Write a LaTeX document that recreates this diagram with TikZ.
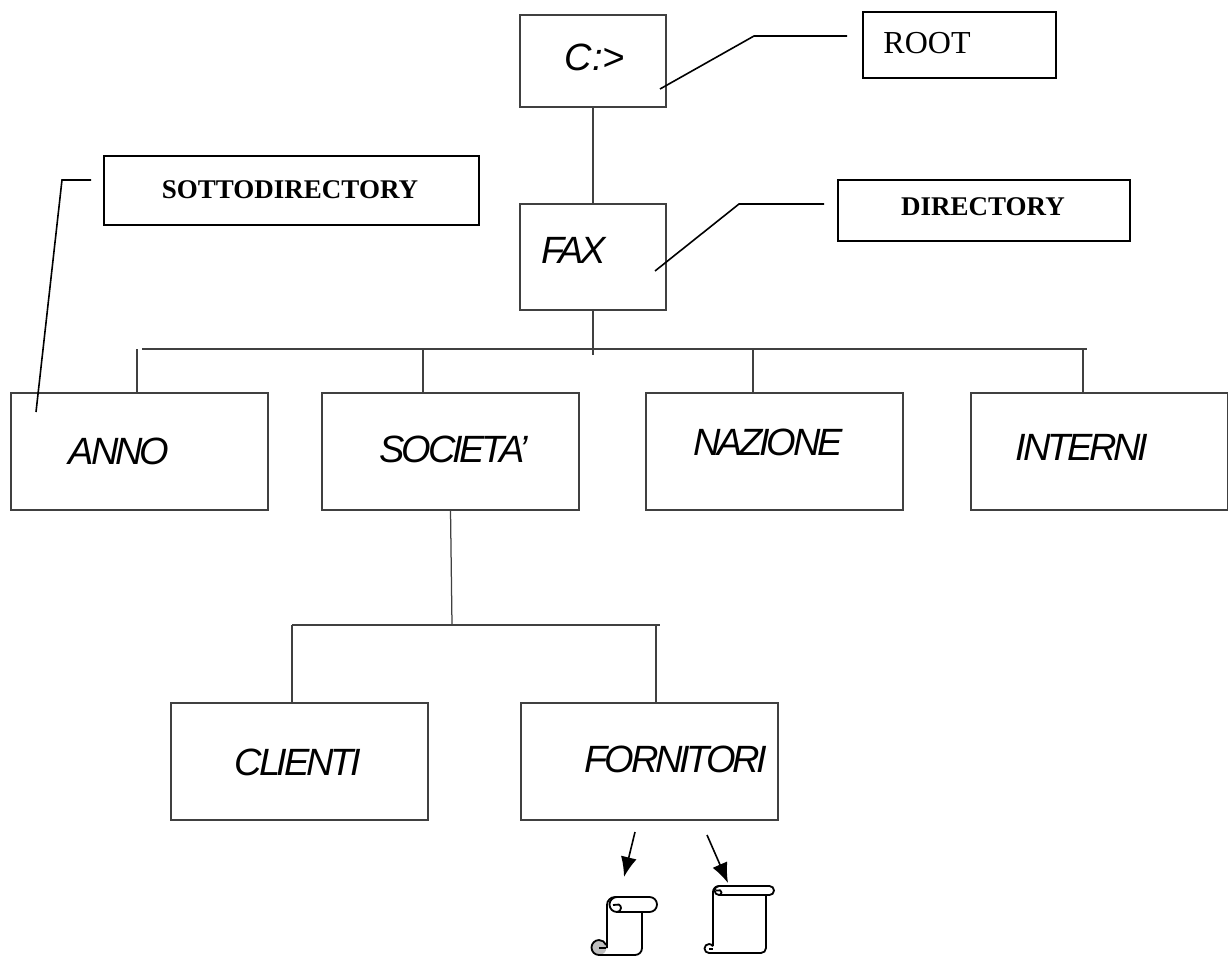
\documentclass[tikz,border=0pt]{standalone}
\usepackage{fontspec}
\setmainfont{Liberation Serif}
\newfontfamily\dirfont[LetterSpace=-8.5]{Liberation Sans}
\newfontfamily\drivefont{Liberation Sans}
\usetikzlibrary{arrows.meta}
\tikzset{
    dirbox/.style={draw=black!75, line width=1.25pt, fill=white, inner sep=0pt, outer sep=0pt},
    tagbox/.style={draw=black, line width=1.6pt, fill=white, inner sep=0pt, outer sep=0pt},
    dirtext/.style={inner sep=0pt, font=\dirfont\itshape\fontsize{38}{38}\selectfont},
    drivetext/.style={inner sep=0pt, font=\drivefont\itshape\fontsize{38}{38}\selectfont},
    roottext/.style={inner sep=0pt, font=\fontsize{32}{32}\selectfont},
    tagtext/.style={inner sep=0pt, font=\bfseries\fontsize{27}{27}\selectfont},
    treeline/.style={draw=black!75, line width=1.25pt},
    leader/.style={draw=black, line width=1.6pt},
    scrollline/.style={draw=black, line width=1.8pt, line join=round},
    tiparrow/.style={draw=black, line width=1.6pt, -{Latex[length=20pt,width=16pt]}},
}
\begin{document}
\begin{tikzpicture}[x=1pt,y=-1pt]
    \useasboundingbox (0,0) rectangle (1228,956);

    % Cartelle
    \node[dirbox, minimum width=146pt, minimum height=92pt]  (root) at (593,61) {};
    \node[dirbox, minimum width=146pt, minimum height=106pt] (fax) at (593,257) {};
    \node[dirbox, minimum width=257pt, minimum height=117pt] (anno) at (139.5,451.5) {};
    \node[dirbox, minimum width=257pt, minimum height=117pt] (societa) at (450.5,451.5) {};
    \node[dirbox, minimum width=257pt, minimum height=117pt] (nazione) at (774.5,451.5) {};
    \node[dirbox, minimum width=257pt, minimum height=117pt] (interni) at (1099.5,451.5) {};
    \node[dirbox, minimum width=257pt, minimum height=117pt] (clienti) at (299.5,761.5) {};
    \node[dirbox, minimum width=257pt, minimum height=117pt] (fornitori) at (649.5,761.5) {};

    % Etichette
    \node[tagbox, minimum width=193pt, minimum height=66pt] (roottag) at (959.5,45) {};
    \node[tagbox, minimum width=292pt, minimum height=61pt] (dirtag) at (984,210.5) {};
    \node[tagbox, minimum width=375pt, minimum height=69pt] (sottotag) at (291.5,190.5) {};

    % Testi
    \node[drivetext] (roottxt) at (595,57) {C:>};
    \node[dirtext] (faxtxt) at (574,250) {FAX};
    \node[dirtext] (annotxt) at (119,451) {ANNO};
    \node[dirtext] (societatxt) at (454,449) {SOCIETA’};
    \node[dirtext] (nazionetxt) at (768,442) {NAZIONE};
    \node[dirtext] (internitxt) at (1082,447) {INTERNI};
    \node[dirtext] (clientitxt) at (298,762) {CLIENTI};
    \node[dirtext] (fornitoritxt) at (676,759) {FORNITORI};
    \node[roottext] (roottagtxt) at (927,43) {ROOT};
    \node[tagtext] (dirtagtxt) at (983,207) {DIRECTORY};
    \node[tagtext] (sottotagtxt) at (290,190) {SOTTODIRECTORY};

    % Albero
    \coordinate (busl) at (142,349);
    \coordinate (busr) at (1087,349);
    \coordinate (busend) at (593,355);
    \coordinate (subl) at (292,625);
    \coordinate (subr) at (660,625);
    \coordinate (subjoin) at (452,625);
    \coordinate (stema) at (137,349);
    \coordinate (stemb) at (423,349);
    \coordinate (stemc) at (753,349);
    \coordinate (stemd) at (1083,349);
    \coordinate (steme) at (656,625);
    \draw[treeline] (root.south) -- (fax.north);
    \draw[treeline] (fax.south) -- (busend);
    \draw[treeline] (busl) -- (busr);
    \foreach \s/\b in {stema/anno,stemb/societa,stemc/nazione,stemd/interni} {
        \draw[treeline] (\s) -- (\s |- \b.north);
    }
    \draw[treeline] (societa.south) -- (subjoin);
    \draw[treeline] (subl) -- (subr);
    \draw[treeline] (subl) -- (subl |- clienti.north);
    \draw[treeline] (steme) -- (steme |- fornitori.north);

    % Richiami
    \coordinate (roota) at (660,89);
    \coordinate (rootb) at (754,36);
    \coordinate (rootc) at (847,36);
    \coordinate (dira) at (655,271);
    \coordinate (dirb) at (739,204);
    \coordinate (dirc) at (824,204);
    \coordinate (sottoa) at (36,412);
    \coordinate (sottob) at (62,180);
    \coordinate (sottoc) at (91,180);
    \draw[leader] (roota) -- (rootb) -- (rootc);
    \draw[leader] (dira) -- (dirb) -- (dirc);
    \draw[leader] (sottoa) -- (sottob) -- (sottoc);

    % Frecce
    \coordinate (arra) at (635,832);
    \coordinate (arrb) at (624,877);
    \coordinate (arrc) at (707,835);
    \coordinate (arrd) at (728,883);
    \draw[tiparrow] (arra) -- (arrb);
    \draw[tiparrow] (arrc) -- (arrd);

    % Pergamena arrotolata
    \fill[black!25] (599,947.5) circle (7.5);
    \draw[scrollline] (607,948) -- (607,905) arc (180:270:8) -- (649.5,897) arc (270:450:7.5) -- (617,912);
    \draw[scrollline] (617,897) arc (270:90:7.5) arc (90:-60:4) -- (613,905);
    \draw[scrollline] (642,912) -- (642,948) arc (0:90:7) -- (599,955) arc (90:340:7.5);
    \draw[scrollline] (599,948) -- (606,948);

    % Pergamena aperta
    \draw[scrollline] (713,946) -- (713,892) arc (180:270:6) -- (769.5,886) arc (270:450:4.5) -- (719,895);
    \draw[scrollline] (719,886) arc (270:90:4.5) arc (90:-60:2.5) -- (716,890.5);
    \draw[scrollline] (766,895) -- (766,948) arc (0:90:5) -- (709,953) arc (90:330:4.5);
    \draw[scrollline] (709,949) -- (713,949);
\end{tikzpicture}
\end{document}
